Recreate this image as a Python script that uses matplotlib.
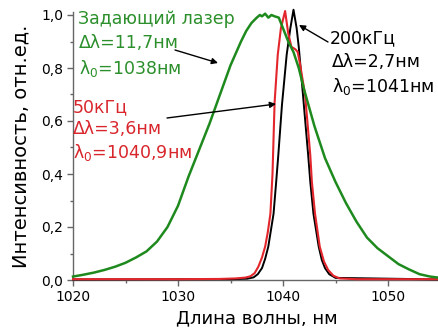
import matplotlib
matplotlib.use("Agg")
import matplotlib.pyplot as plt
from matplotlib.ticker import MultipleLocator, FuncFormatter

# ---- data ----
green_x = [1020.0, 1021.0, 1022.0, 1023.0, 1024.0, 1025.0, 1026.0, 1027.0, 1028.0, 1029.0,
           1030.0, 1031.0, 1032.0, 1033.0, 1034.0, 1035.0, 1036.0, 1036.5, 1037.0, 1037.5,
           1037.8, 1038.0, 1038.3, 1038.6, 1038.9, 1039.2, 1039.6, 1040.0, 1040.5, 1041.0,
           1041.5, 1042.0, 1043.0, 1044.0, 1045.0, 1046.0, 1047.0, 1048.0, 1049.0, 1050.0,
           1051.0, 1052.0, 1053.0, 1054.0, 1055.0]
green_y = [0.013, 0.02, 0.028, 0.038, 0.05, 0.065, 0.085, 0.108, 0.145, 0.2,
           0.28, 0.39, 0.49, 0.59, 0.70, 0.81, 0.90, 0.94, 0.97, 0.99,
           1.0, 0.995, 1.005, 0.99, 1.0, 0.995, 0.99, 0.95, 0.90, 0.86,
           0.80, 0.72, 0.58, 0.46, 0.37, 0.29, 0.22, 0.16, 0.12, 0.09,
           0.06, 0.04, 0.022, 0.013, 0.008]

red_x = [1020.0, 1030.0, 1034.0, 1035.5, 1036.4, 1036.9, 1037.3, 1037.65, 1038.0, 1038.3,
         1038.55, 1038.8, 1039.0, 1039.2, 1039.5, 1039.8, 1040.2, 1040.5, 1040.8, 1041.2,
         1041.4, 1041.6, 1042.1, 1042.6, 1042.75, 1043.05, 1043.5, 1043.9, 1044.3, 1044.8,
         1045.4, 1047.0, 1055.0]
red_y = [0.003, 0.003, 0.004, 0.006, 0.009, 0.014, 0.026, 0.05, 0.085, 0.126,
         0.18, 0.25, 0.40, 0.67, 0.85, 0.95, 1.015, 0.93, 0.88, 0.87,
         0.86, 0.82, 0.70, 0.47, 0.37, 0.25, 0.126, 0.07, 0.038, 0.016,
         0.006, 0.003, 0.003]

black_x = [1020.0, 1035.0, 1036.6, 1037.2, 1037.6, 1038.0, 1038.3, 1038.6, 1039.1, 1039.35,
           1039.55, 1039.9, 1040.35, 1040.7, 1041.0, 1041.3, 1041.5, 1041.9, 1042.4, 1042.6,
           1042.9, 1043.4, 1043.7, 1044.0, 1044.4, 1045.0, 1055.0]
black_y = [0.002, 0.003, 0.005, 0.01, 0.022, 0.045, 0.08, 0.126, 0.25, 0.37,
           0.47, 0.66, 0.85, 0.95, 1.02, 0.95, 0.88, 0.70, 0.47, 0.37,
           0.25, 0.126, 0.075, 0.045, 0.022, 0.008, 0.002]

x_ticks = [1020, 1030, 1040, 1050]
y_ticks = [0.0, 0.2, 0.4, 0.6, 0.8, 1.0]

GREEN = "#1e8a1e"
RED = "#e3262c"
GREEN_T = "#2b8f2b"
RED_T = "#d8262c"

fig = plt.figure(figsize=(4.38, 3.35), dpi=100)
ax = fig.add_axes([73 / 438, 55 / 335, (440.5 - 73) / 438, 267.65 / 335])

ax.plot(black_x, black_y, color="black", lw=1.4, zorder=3, clip_on=False)
ax.plot(red_x, red_y, color=RED, lw=1.5, zorder=4, clip_on=False)
ax.plot(green_x, green_y, color=GREEN, lw=1.8, zorder=5, clip_on=False)

ax.set_xlim(1020, 1055)
ax.set_ylim(0, 1.01)
ax.set_xticks(x_ticks)
ax.set_yticks(y_ticks)
ax.xaxis.set_minor_locator(MultipleLocator(5))
ax.yaxis.set_minor_locator(MultipleLocator(0.1))
ax.yaxis.set_major_formatter(FuncFormatter(lambda v, p: f"{v:.1f}".replace(".", ",")))

for s in ["top", "right"]:
    ax.spines[s].set_visible(False)
for s in ["left", "bottom"]:
    ax.spines[s].set_color("#666666")
    ax.spines[s].set_linewidth(1.0)

ax.tick_params(which="major", direction="out", length=4, width=1, color="#666666",
               labelsize=10, pad=3)
ax.tick_params(which="minor", direction="out", length=2.5, width=1, color="#666666")

ax.set_xlabel("Длина волны, нм", fontsize=13, labelpad=4)
ax.set_ylabel("Интенсивность, отн.ед.", fontsize=14, labelpad=8)

# ---- annotations (positions in axes pixels converted to data) ----
def px(xp, yp):
    return (1020 + (xp - 73) / 10.5, (280 - yp) / 265)

fs = 12.5
def txt(xp, yp, s, c):
    x, y = px(xp, yp)
    ax.text(x, y, s, color=c, fontsize=fs, ha="left", va="baseline", zorder=6)

txt(78, 24, "Задающий лазер", GREEN_T)
txt(79, 48, "Δλ=11,7нм", GREEN_T)
txt(79, 74, r"$\mathregular{\lambda_0}$=1038нм", GREEN_T)

txt(73, 112, "50кГц", RED_T)
txt(73, 134, "Δλ=3,6нм", RED_T)
txt(73, 158, r"$\mathregular{\lambda_0}$=1040,9нм", RED_T)

txt(330, 43, "200кГц", "black")
txt(332, 67, "Δλ=2,7нм", "black")
txt(332, 92, r"$\mathregular{\lambda_0}$=1041нм", "black")

arrow = dict(arrowstyle="-|>", color="black", lw=1.0, mutation_scale=9,
             shrinkA=0, shrinkB=0)
ax.annotate("", xy=px(218, 63), xytext=px(175, 50), arrowprops=arrow, zorder=7,
            annotation_clip=False)
ax.annotate("", xy=px(276, 104), xytext=px(167, 118), arrowprops=arrow, zorder=7,
            annotation_clip=False)
ax.annotate("", xy=px(299, 25), xytext=px(328, 42), arrowprops=arrow, zorder=7,
            annotation_clip=False)

fig.savefig("out.png", dpi=100)
